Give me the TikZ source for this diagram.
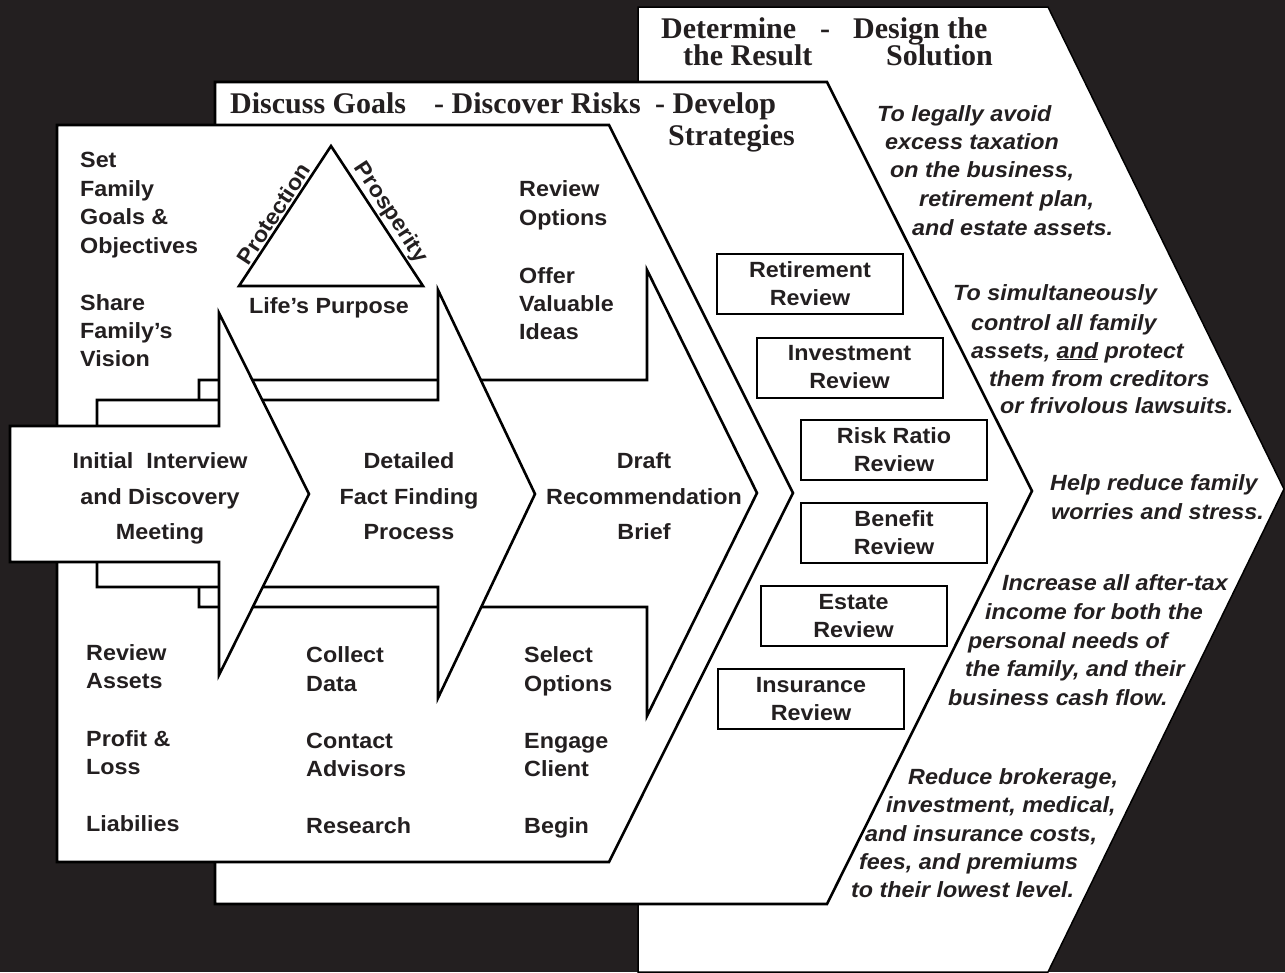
\documentclass[tikz,border=0pt]{standalone}
\usepackage{fontspec}
\setmainfont{Liberation Sans}[FakeStretch=1.06]
\newfontfamily\titlefont{Liberation Serif}
\definecolor{bg}{HTML}{231F20}
\definecolor{ink}{HTML}{231F20}
\tikzset{
  body/.style={font=\bfseries\fontsize{22}{28.5}\selectfont, text=ink, inner sep=0pt},
  bl/.style={body, anchor=base west},
  bc/.style={body, anchor=base},
  ital/.style={font=\bfseries\itshape\fontsize{22}{28.5}\selectfont, text=ink, inner sep=0pt, anchor=base west},
  ttl/.style={font=\titlefont\bfseries\fontsize{30}{27}\selectfont, text=ink, inner sep=0pt, anchor=base west},
  panel/.style={fill=white, draw=black, line width=2.6pt, line join=miter},
  rbox/.style={draw=black, fill=white, line width=2pt, minimum width=186pt, minimum height=60pt, inner sep=0pt, align=center, font=\bfseries\fontsize{22}{28}\selectfont, text=ink},
}
\begin{document}
\begin{tikzpicture}[x=1pt,y=-1pt]
\fill[bg] (0,0) rectangle (1285,972);
\useasboundingbox (0,0) rectangle (1285,972);
% Determine panel
\filldraw[fill=white, draw=black, line width=1.5pt, line join=miter] (638,7) -- (1048,7) -- (1284,489) -- (1048,972) -- (638,972) -- cycle;
% Discuss panel
\filldraw[panel] (215,82) -- (827,82) -- (1032,491) -- (827,904) -- (215,904) -- cycle;
% Main panel
\filldraw[panel] (57,125) -- (609,125) -- (793,493) -- (609,862) -- (57,862) -- cycle;
% Arrows
\filldraw[panel] (199,380) -- (647,380) -- (647,270) -- (757,493) -- (647,716) -- (647,607) -- (199,607) -- cycle;
\filldraw[panel] (97,400) -- (438,400) -- (438,290) -- (535,494) -- (438,698) -- (438,587) -- (97,587) -- cycle;
\filldraw[panel] (10,426) -- (219,426) -- (219,313) -- (309,494) -- (219,675) -- (219,562) -- (10,562) -- cycle;
% Triangle
\coordinate (tA) at (331,146);
\coordinate (tB) at (239,286);
\coordinate (tC) at (423,286);
\draw[line width=2.6pt, line join=miter] (tA) -- (tB) -- (tC) -- cycle;
\node[body, rotate=56.7, anchor=south, inner sep=3pt] (prot) at (283,220) {Protection};
\node[body, rotate=-56.7, anchor=south, inner sep=3pt] (pros) at (379,220) {Prosperity};
\node[bc] (life) at (329,313) {Life’s Purpose};

% Titles
\node[ttl] (d1) at (661,38) {Determine};
\node[ttl] (d2) at (820,38) {-};
\node[ttl] (d3) at (853,38) {Design the};
\node[ttl] (d4) at (683,65) {the Result};
\node[ttl] (d5) at (886,65) {Solution};
\node[ttl] (g1) at (230,113) {Discuss Goals};
\node[ttl] (g2) at (434,113) {- Discover Risks};
\node[ttl] (g3) at (655,113) {- Develop};
\node[ttl] (g4) at (668,145) {Strategies};

% Left column top
\node[bl] (a1) at (80,167) {Set};
\node[bl] (a2) at (80,196) {Family};
\node[bl] (a3) at (80,224) {Goals \&};
\node[bl] (a4) at (80,253) {Objectives};
\node[bl] (a5) at (80,310) {Share};
\node[bl] (a6) at (80,338) {Family’s};
\node[bl] (a7) at (80,366) {Vision};
% Middle top
\node[bl] (b1) at (519,196) {Review};
\node[bl] (b2) at (519,225) {Options};
\node[bl] (b3) at (519,283) {Offer};
\node[bl] (b4) at (519,311) {Valuable};
\node[bl] (b5) at (519,339) {Ideas};

% Arrow texts
\node[bc] (i1) at (160,468) {Initial\ \ Interview};
\node[bc] (i2) at (160,504) {and Discovery};
\node[bc] (i3) at (160,539) {Meeting};
\node[bc] (f1) at (409,468) {Detailed};
\node[bc] (f2) at (409,504) {Fact Finding};
\node[bc] (f3) at (409,539) {Process};
\node[bc] (r1) at (644,468) {Draft};
\node[bc] (r2) at (644,504) {Recommendation};
\node[bc] (r3) at (644,539) {Brief};

% Bottom columns
\node[bl] (c1) at (86,660) {Review};
\node[bl] (c2) at (86,688) {Assets};
\node[bl] (c3) at (86,746) {Profit \&};
\node[bl] (c4) at (86,774) {Loss};
\node[bl] (c5) at (86,831) {Liabilies};
\node[bl] (e1) at (306,662) {Collect};
\node[bl] (e2) at (306,691) {Data};
\node[bl] (e3) at (306,748) {Contact};
\node[bl] (e4) at (306,776) {Advisors};
\node[bl] (e5) at (306,833) {Research};
\node[bl] (s1) at (524,662) {Select};
\node[bl] (s2) at (524,691) {Options};
\node[bl] (s3) at (524,748) {Engage};
\node[bl] (s4) at (524,776) {Client};
\node[bl] (s5) at (524,833) {Begin};

% Review boxes
\node[rbox] (rv1) at (810,284) {Retirement\\Review};
\node[rbox] (rv2) at (849.5,367.5) {Investment\\Review};
\node[rbox] (rv3) at (894,450) {Risk Ratio\\Review};
\node[rbox] (rv4) at (894,533) {Benefit\\Review};
\node[rbox] (rv5) at (853.5,616) {Estate\\Review};
\node[rbox] (rv6) at (811,699) {Insurance\\Review};

% Right italic texts
\node[ital] (t1) at (877,121) {To legally avoid};
\node[ital] (t2) at (885,149) {excess taxation};
\node[ital] (t3) at (890,177) {on the business,};
\node[ital] (t4) at (919,206) {retirement plan,};
\node[ital] (t5) at (912,235) {and estate assets.};
\node[ital] (u1) at (953,300) {To simultaneously};
\node[ital] (u2) at (971,330) {control all family};
\node[ital] (u3) at (971,358) {assets, \underline{and} protect};
\node[ital] (u4) at (989,386) {them from creditors};
\node[ital] (u5) at (1000,413) {or frivolous lawsuits.};
\node[ital] (h1) at (1050,490) {Help reduce family};
\node[ital] (h2) at (1051,519) {worries and stress.};
\node[ital] (n1) at (1002,590) {Increase all after-tax};
\node[ital] (n2) at (985,619) {income for both the};
\node[ital] (n3) at (968,648) {personal needs of};
\node[ital] (n4) at (965,676) {the family, and their};
\node[ital] (n5) at (948,705) {business cash flow.};
\node[ital] (m1) at (908,784) {Reduce brokerage,};
\node[ital] (m2) at (886,812) {investment, medical,};
\node[ital] (m3) at (865,841) {and insurance costs,};
\node[ital] (m4) at (859,869) {fees, and premiums};
\node[ital] (m5) at (851,897) {to their lowest level.};
\end{tikzpicture}
\end{document}
